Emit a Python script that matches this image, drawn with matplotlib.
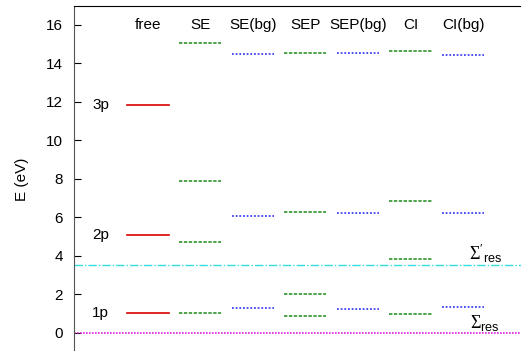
import matplotlib
matplotlib.use("Agg")
import matplotlib.pyplot as plt

plt.rcParams["font.family"] = ["Liberation Sans", "DejaVu Sans"]
plt.rcParams["mathtext.fontset"] = "custom"
plt.rcParams["mathtext.rm"] = "Liberation Serif"
plt.rcParams["mathtext.sf"] = "Liberation Sans"

# energy levels (eV) for each calculation
columns = ["free", "SE", "SE(bg)", "SEP", "SEP(bg)", "CI", "CI(bg)"]
free_levels = [1.02, 5.09, 11.84]
free_names = ["1p", "2p", "3p"]
se_levels = [1.02, 4.74, 7.91, 15.05]
se_bg_levels = [1.31, 6.09, 14.48]
sep_levels = [0.85, 2.01, 6.29, 14.56]
sep_bg_levels = [1.21, 6.20, 14.53]
ci_levels = [0.99, 3.81, 6.86, 14.67]
ci_bg_levels = [1.33, 6.25, 14.44]
sigma_res = 0.0
sigma_res_prime = 3.5

W, H = 521, 351
fig = plt.figure(figsize=(W / 100, H / 100), dpi=100)
ax = fig.add_axes([74 / W, -1 / H, (524 - 74) / W, (352 - 5.7) / H])

half = 0.4
ax.set_xlim(-0.405, 8.16)
ax.set_ylim(-1, 17)


def levels(x, ys, **kw):
    for y in ys:
        ax.plot([x - half, x + half], [y, y], **kw)


green = dict(color="#1a8c1a", lw=1.1, ls=(0, (2.2, 1.0)))
blue = dict(color="#2222ee", lw=1.1, ls=(0, (1.2, 1.2)))

levels(1, free_levels, color="#dd0000", lw=1.2)
levels(2, se_levels, **green)
levels(3, se_bg_levels, **blue)
levels(4, sep_levels, **green)
levels(5, sep_bg_levels, **blue)
levels(6, ci_levels, **green)
levels(7, ci_bg_levels, **blue)

ax.axhline(sigma_res_prime, color="#33dddd", lw=1.0, ls=(0, (6, 1.5, 1, 1.5)))
ax.axhline(sigma_res, color="#dd22dd", lw=1.2, ls=(0, (1, 0.8)))

for i, name in enumerate(columns):
    ax.text(i + 1, 16, name, ha="center", va="center", fontsize=11)

for y, name in zip(free_levels, free_names):
    ax.text(0.1, y, name, ha="center", va="center", fontsize=11)

ax.text(7.12, 3.5, r"$\Sigma'_{\mathsf{res}}$", fontsize=13, ha="left", va="bottom")
ax.text(7.14, -0.02, r"$\Sigma_{\mathsf{res}}$", fontsize=13, ha="left", va="bottom")

ax.set_yticks(range(0, 17, 2))
ax.set_xticks([])
ax.tick_params(axis="y", direction="in", length=5, labelsize=11, pad=8)
ax.spines["left"].set_color("#555555")
ax.spines["bottom"].set_visible(False)
ax.set_ylabel("E (eV)", fontsize=11, labelpad=12)

fig.savefig("out.png", dpi=100)
